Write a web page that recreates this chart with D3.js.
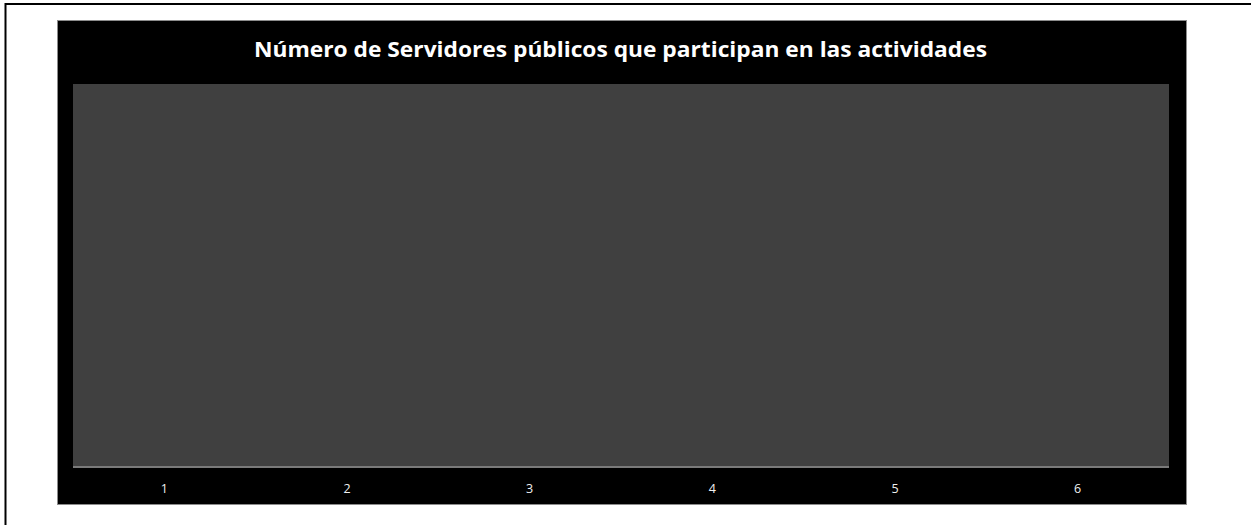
<!DOCTYPE html>
<html>
<head>
<meta charset="utf-8">
<script src="https://cdn.jsdelivr.net/npm/d3@7"></script>
<style>
  html, body { margin: 0; padding: 0; background: #ffffff; }
  svg { display: block; }
</style>
</head>
<body>
<svg id="chart" width="1251" height="525"></svg>
<script>
// Activities (categories) and number of participating public servants per activity
const categories = ["1", "2", "3", "4", "5", "6"];
const participants = [0, 0, 0, 0, 0, 0];
const titleText = "Número de Servidores públicos que participan en las actividades";

const svg = d3.select("#chart");
const W = 1251, H = 525;

// page frame lines (top and left)
svg.append("line").attr("x1", 6).attr("x2", W).attr("y1", 4).attr("y2", 4)
  .attr("stroke", "#000").attr("stroke-width", 2);
svg.append("line").attr("x1", 5.5).attr("x2", 5.5).attr("y1", 3).attr("y2", H)
  .attr("stroke", "#000").attr("stroke-width", 2);

// chart area
const box = { x: 57, y: 20, w: 1130, h: 485 };
svg.append("rect")
  .attr("x", box.x + 0.5).attr("y", box.y + 0.5)
  .attr("width", box.w - 1).attr("height", box.h - 1)
  .attr("fill", "#000").attr("stroke", "#8c8c8c").attr("stroke-width", 1);

// plot area
const plot = { left: 73, top: 84, right: 1169, bottom: 466 };
svg.append("rect")
  .attr("x", plot.left).attr("y", plot.top)
  .attr("width", plot.right - plot.left).attr("height", plot.bottom - plot.top)
  .attr("fill", "#404040");

const x = d3.scaleBand().domain(categories).range([plot.left, plot.right]).padding(0.3);
const y = d3.scaleLinear().domain([0, Math.max(1, d3.max(participants))]).range([plot.bottom, plot.top]);

// bars
svg.append("g").selectAll("rect")
  .data(categories.map((c, i) => ({ c, v: participants[i] })))
  .join("rect")
  .attr("x", d => x(d.c))
  .attr("width", x.bandwidth())
  .attr("y", d => y(d.v))
  .attr("height", d => y(0) - y(d.v))
  .attr("fill", "#4f81bd");

// category axis
const xAxis = d3.axisBottom(x.copy().padding(0)).tickSize(0).tickPadding(0);
const gx = svg.append("g").attr("transform", `translate(0,${plot.bottom})`).call(xAxis);
gx.select(".domain").remove();
gx.selectAll("text")
  .attr("dy", null)
  .attr("y", 27)
  .attr("fill", "#f0f0f0")
  .attr("font-family", "'Open Sans', sans-serif")
  .attr("font-size", 12.5);

svg.append("line")
  .attr("x1", plot.left).attr("x2", plot.right)
  .attr("y1", plot.bottom + 1).attr("y2", plot.bottom + 1)
  .attr("stroke", "#7a7a7a").attr("stroke-width", 2);

// title
svg.append("text")
  .attr("x", 620.5).attr("y", 57)
  .attr("text-anchor", "middle")
  .attr("fill", "#ffffff")
  .attr("font-family", "'Open Sans', sans-serif")
  .attr("font-weight", "bold")
  .attr("font-size", 21)
  .attr("textLength", 733)
  .attr("lengthAdjust", "spacingAndGlyphs")
  .text(titleText);
</script>
</body>
</html>
